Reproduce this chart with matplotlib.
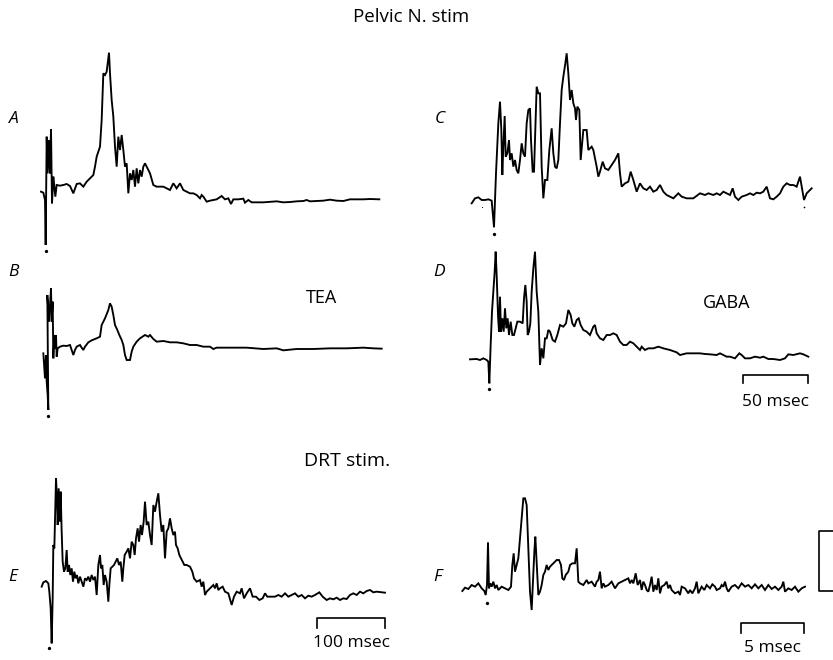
import matplotlib
matplotlib.use('Agg')
import matplotlib.pyplot as plt
import numpy as np

a_x = [33, 40, 45, 47, 50, 53, 57, 60, 63, 66, 70, 73, 76, 80, 90, 100, 110, 120, 130, 140, 150, 160, 170,
       180, 190, 195, 200, 210, 215, 220, 225, 230, 237, 240, 245, 250, 255, 260, 265, 270, 275, 280, 285,
       290, 295, 300, 305, 310, 315, 320, 325, 330, 335, 340, 345, 350, 360, 370, 380, 400, 420, 430, 440,
       450, 460, 470, 480, 490, 500, 510, 515, 520, 530, 540, 560, 575, 585, 595, 603, 610, 625, 640, 645,
       655, 665, 700, 740, 760, 780, 800, 820, 830, 840, 880, 900, 920, 940, 960, 1000, 1020, 1048]
a_y = [455, 458, 480, 615, 290, 400, 300, 400, 268, 490, 410, 440, 470, 435, 437, 435, 432, 438, 460, 432,
       430, 440, 425, 415, 405, 380, 350, 320, 240, 100, 105, 95, 38, 100, 180, 230, 320, 380, 290, 330,
       285, 330, 380, 370, 460, 400, 420, 390, 440, 385, 430, 390, 410, 380, 370, 380, 400, 435, 440, 440,
       450, 430, 445, 430, 450, 455, 460, 460, 465, 475, 465, 470, 485, 482, 478, 468, 478, 475, 492, 478,
       478, 476, 488, 480, 487, 487, 484, 487, 486, 484, 483, 480, 484, 482, 479, 482, 483, 478, 478, 477, 478]

b_x = [40, 45, 48, 50, 53, 55, 52, 57, 60, 63, 65, 68, 70, 73, 76, 78, 80, 83, 90, 100, 110, 120, 125, 130,
       135, 140, 150, 155, 160, 165, 175, 185, 200, 210, 215, 225, 235, 240, 245, 250, 255, 262, 268, 275,
       280, 285, 290, 300, 305, 310, 320, 330, 345, 355, 360, 370, 380, 400, 420, 440, 460, 480, 500, 520,
       540, 550, 560, 600, 650, 700, 740, 760, 780, 800, 850, 900, 950, 1000, 1030, 1055]
b_y = [295, 370, 300, 380, 420, 465, 120, 200, 150, 100, 200, 140, 310, 240, 280, 240, 305, 280, 275, 272,
       273, 270, 285, 300, 285, 275, 270, 278, 285, 275, 262, 256, 250, 245, 210, 190, 165, 145, 155, 180,
       210, 225, 240, 255, 270, 300, 315, 315, 290, 275, 260, 250, 240, 245, 240, 252, 260, 258, 262, 262,
       265, 270, 270, 275, 275, 282, 278, 278, 278, 282, 280, 286, 284, 282, 282, 280, 280, 278, 280, 281]

c_x = [35, 45, 55, 65, 75, 85, 95, 100, 102, 108, 115, 120, 124, 127, 130, 134, 137, 142, 147, 150, 155,
       160, 165, 170, 175, 180, 185, 190, 195, 200, 205, 210, 213, 218, 222, 225, 230, 235, 240, 245, 250,
       255, 262, 268, 275, 280, 285, 290, 295, 300, 305, 310, 316, 320, 325, 330, 335, 340, 345, 348, 352,
       358, 362, 370, 380, 385, 395, 400, 410, 415, 420, 428, 435, 445, 455, 465, 475, 480, 485, 495, 505,
       512, 520, 530, 540, 550, 560, 570, 580, 590, 600, 610, 620, 630, 640, 655, 665, 680, 700, 720, 735,
       745, 760, 770, 780, 790, 800, 810, 818, 825, 835, 845, 860, 870, 880, 890, 900, 910, 920, 930, 940,
       950, 960, 970, 980, 990, 1000, 1010, 1020, 1025, 1032, 1040, 1055]
c_y = [490, 475, 472, 480, 480, 478, 482, 540, 562, 400, 250, 185, 270, 405, 320, 228, 350, 340, 300, 360,
       340, 380, 360, 390, 400, 360, 310, 340, 350, 250, 210, 205, 300, 395, 395, 300, 140, 160, 160, 380,
       475, 420, 420, 330, 265, 340, 380, 385, 360, 250, 150, 110, 70, 40, 100, 180, 150, 190, 205, 240,
       200, 210, 360, 270, 270, 330, 320, 330, 380, 410, 395, 365, 385, 390, 375, 360, 340, 400, 440, 430,
       425, 395, 420, 455, 430, 445, 450, 440, 455, 450, 435, 455, 465, 470, 475, 460, 470, 475, 475, 460,
       465, 460, 465, 460, 465, 455, 460, 465, 445, 470, 480, 470, 465, 460, 465, 458, 460, 455, 440, 475,
       478, 470, 460, 440, 430, 435, 435, 440, 410, 440, 480, 460, 445]

d_x = [30, 50, 60, 70, 80, 85, 88, 92, 96, 100, 104, 107, 110, 114, 117, 120, 123, 127, 131, 135, 139, 143,
       147, 152, 157, 162, 167, 172, 180, 188, 192, 196, 200, 203, 207, 211, 215, 220, 225, 230, 235, 240,
       245, 250, 255, 260, 265, 270, 278, 285, 292, 300, 310, 318, 325, 332, 337, 343, 350, 356, 362, 370,
       380, 390, 400, 405, 410, 420, 430, 440, 450, 460, 470, 480, 490, 500, 510, 520, 530, 540, 545, 555,
       565, 580, 595, 610, 630, 650, 660, 680, 700, 720, 735, 750, 770, 780, 790, 800, 810, 825, 838, 845,
       855, 870, 885, 900, 910, 925, 940, 960, 975, 985, 1000, 1020, 1030, 1045]
d_y = [373, 372, 375, 370, 375, 380, 445, 330, 230, 170, 110, 50, 120, 240, 290, 185, 290, 250, 290, 220,
       280, 250, 300, 260, 300, 300, 280, 260, 260, 265, 190, 150, 200, 300, 290, 265, 170, 100, 50, 170,
       230, 390, 340, 370, 310, 310, 285, 290, 315, 320, 300, 270, 275, 265, 225, 240, 265, 275, 255, 250,
       270, 285, 290, 300, 275, 270, 295, 310, 315, 300, 300, 295, 300, 320, 330, 330, 320, 325, 335, 345,
       335, 345, 340, 340, 335, 340, 345, 352, 360, 355, 355, 355, 357, 358, 360, 355, 360, 365, 365, 370,
       355, 360, 370, 370, 365, 368, 365, 372, 372, 375, 370, 358, 360, 355, 358, 365]

e_x = [35, 40, 48, 55, 58, 62, 65, 68, 70, 73, 76, 78, 81, 83, 86, 89, 92, 95, 98, 102, 106, 110, 113, 117,
       121, 125, 129, 133, 137, 141, 145, 150, 155, 160, 165, 170, 175, 180, 185, 190, 195, 200, 205, 210,
       213, 217, 221, 225, 230, 235, 238, 242, 247, 252, 257, 262, 267, 272, 277, 280, 284, 290, 295, 300,
       305, 310, 314, 318, 323, 327, 332, 336, 341, 345, 350, 355, 360, 365, 370, 375, 380, 385, 390, 395,
       400, 405, 410, 415, 420, 425, 430, 435, 438, 443, 448, 453, 458, 463, 470, 480, 487, 492, 500, 510,
       515, 520, 525, 530, 540, 550, 555, 560, 565, 570, 578, 585, 595, 605, 612, 620, 630, 635, 642, 650,
       660, 668, 678, 688, 698, 705, 712, 725, 735, 745, 755, 765, 775, 785, 795, 805, 815, 825, 835, 845,
       855, 868, 878, 890, 900, 910, 920, 930, 940, 950, 960, 970, 980, 990, 1000, 1010, 1020, 1030, 1040,
       1065]
e_y = [365, 352, 348, 355, 380, 430, 535, 400, 240, 250, 130, 40, 100, 180, 70, 170, 80, 200, 290, 320,
       310, 255, 320, 300, 330, 310, 350, 320, 340, 330, 355, 335, 350, 365, 340, 345, 335, 350, 330, 345,
       335, 390, 300, 270, 310, 300, 360, 330, 350, 410, 360, 310, 305, 300, 290, 280, 300, 290, 350, 310,
       270, 260, 250, 280, 230, 240, 270, 220, 190, 230, 180, 210, 170, 110, 180, 170, 210, 240, 120, 140,
       110, 85, 150, 200, 180, 280, 200, 190, 160, 190, 210, 200, 240, 250, 270, 280, 290, 300, 300, 305,
       320, 340, 350, 345, 365, 350, 390, 380, 370, 360, 370, 355, 375, 370, 365, 380, 385, 420, 395, 380,
       385, 370, 400, 385, 370, 395, 395, 405, 400, 385, 395, 395, 395, 390, 395, 385, 395, 390, 385, 395,
       390, 400, 392, 395, 390, 382, 395, 405, 400, 403, 398, 405, 400, 402, 390, 385, 390, 380, 385, 378,
       375, 382, 380, 383]

f_x = [22, 30, 40, 50, 60, 70, 80, 88, 92, 96, 99, 102, 106, 110, 115, 120, 125, 130, 140, 150, 160, 168,
       172, 176, 180, 185, 190, 195, 200, 205, 210, 215, 220, 225, 230, 234, 238, 241, 245, 250, 255, 260,
       265, 270, 275, 280, 285, 290, 295, 305, 312, 318, 322, 327, 332, 340, 345, 352, 360, 365, 370, 375,
       385, 395, 400, 410, 420, 425, 430, 435, 440, 445, 450, 460, 470, 480, 490, 500, 510, 520, 525, 530,
       535, 542, 548, 555, 560, 565, 570, 575, 580, 585, 590, 595, 600, 605, 610, 615, 620, 628, 635, 640,
       645, 650, 660, 670, 675, 680, 690, 700, 705, 712, 720, 725, 730, 740, 748, 755, 765, 772, 780, 785,
       795, 800, 805, 810, 815, 820, 830, 840, 850, 860, 870, 880, 890, 900, 910, 920, 930, 940, 950, 960,
       970, 980, 985, 990, 1000, 1010, 1020, 1030, 1040, 1050]
f_y = [378, 368, 372, 360, 365, 355, 370, 378, 390, 360, 232, 370, 355, 365, 350, 370, 360, 375, 365, 370,
       375, 365, 300, 265, 320, 300, 280, 220, 160, 100, 100, 120, 250, 380, 435, 350, 260, 215, 290, 390,
       380, 360, 330, 320, 300, 315, 305, 300, 295, 285, 285, 300, 340, 345, 330, 320, 300, 295, 295, 250,
       350, 355, 360, 345, 355, 350, 365, 350, 345, 320, 370, 355, 365, 360, 350, 370, 355, 350, 345, 340,
       355, 345, 355, 325, 360, 345, 375, 350, 360, 375, 380, 360, 335, 380, 360, 375, 340, 385, 365, 360,
       350, 370, 360, 375, 385, 380, 390, 365, 370, 385, 375, 385, 370, 350, 385, 365, 375, 360, 370, 358,
       365, 375, 370, 360, 365, 350, 370, 380, 365, 360, 370, 355, 365, 360, 370, 358, 370, 360, 375, 360,
       372, 365, 375, 365, 350, 380, 370, 375, 365, 380, 370, 365]

# stimulus dots (x, y, size) in the same digitised units
dots = {'A': [(47, 632, 2.4)], 'B': [(55, 482, 2.4)], 'C': [(102, 582, 2.4), (1032, 500, 1.2), (65, 500, 0.8)],
        'D': [(88, 462, 2.4)], 'E': [(57, 549, 2.4)], 'F': [(96, 415, 2.4)]}

scale_label = {'D': '50 msec', 'E': '100 msec', 'F': '5 msec'}

W, H = 833, 660
fig = plt.figure(figsize=(W / 100, H / 100), dpi=100)
fig.patch.set_facecolor('white')
FONT = 'Open Sans'

# panel crops (left, top, width, height) in pixels; digitised units are 1/3 px
panels = {
    'A': ((30, 40, 360, 220), a_x, a_y),
    'B': ((30, 255, 360, 170), b_x, b_y),
    'C': ((460, 40, 373, 220), c_x, c_y),
    'D': ((460, 235, 373, 200), d_x, d_y),
    'E': ((30, 465, 370, 195), e_x, e_y),
    'F': ((455, 465, 378, 195), f_x, f_y),
}
bar_pos = {'D': (848, 1043, 420, 445, 500), 'E': (862, 1065, 460, 490, 535), 'F': (858, 1048, 475, 505, 550)}

axes = {}
for key, (box, xs, ys) in panels.items():
    l, t, w, h = box
    ax = fig.add_axes([l / W, 1 - (t + h) / H, w / W, h / H])
    ax.set_xlim(0, 3 * w)
    ax.set_ylim(3 * h, 0)
    ax.axis('off')
    ax.patch.set_alpha(0)
    ax.plot(xs, ys, color='black', lw=1.35, solid_joinstyle='miter')
    for dx, dy, s in dots[key]:
        ax.plot(dx, dy, 'o', color='black', ms=s, mew=0)
    if key in bar_pos:
        x0, x1, yb, yt, ytxt = bar_pos[key]
        ax.plot([x0, x0, x1, x1], [yt, yb, yb, yt], color='black', lw=1.2, clip_on=False)
        ax.text((x0 + x1) / 2, ytxt, scale_label[key], ha='center', va='center',
                fontsize=12.5, family=FONT)
    axes[key] = ax

# amplitude calibration bracket beside F
axes['F'].plot([1140, 1093, 1093, 1140], [197, 197, 378, 378], color='black', lw=1.2, clip_on=False)

for lbl, (x, y) in {'A': (14, 119), 'B': (13, 272), 'C': (440, 119), 'D': (439, 272),
                    'E': (13, 577), 'F': (437, 577)}.items():
    fig.text(x / W, 1 - y / H, lbl, ha='center', va='center', fontsize=12.5, style='italic', family=FONT)

fig.text(411 / W, 1 - 17 / H, 'Pelvic N. stim', ha='center', va='center', fontsize=13.5, family=FONT)
fig.text(347 / W, 1 - 461 / H, 'DRT stim.', ha='center', va='center', fontsize=14, family=FONT)
fig.text(322 / W, 1 - 298 / H, 'TEA', ha='center', va='center', fontsize=13, family=FONT)
fig.text(727 / W, 1 - 303 / H, 'GABA', ha='center', va='center', fontsize=13, family=FONT)

fig.savefig('out.png', dpi=100, facecolor='white')
